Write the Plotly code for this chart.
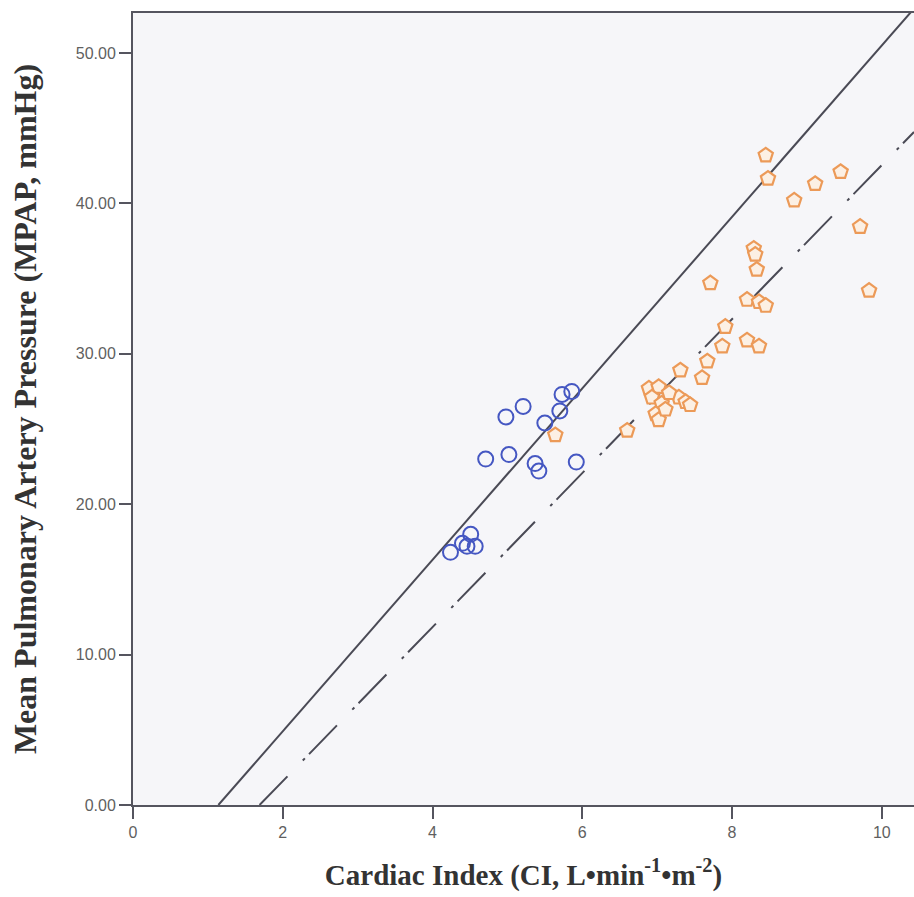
import plotly.graph_objects as go

# Group 1 (blue circles)
ci_g1 = [4.24, 4.40, 4.51, 4.46, 4.57, 4.71, 5.02, 5.37, 5.42, 5.92, 4.98, 5.21, 5.50, 5.70, 5.73, 5.86]
mpap_g1 = [16.8, 17.4, 18.0, 17.2, 17.2, 23.0, 23.3, 22.7, 22.2, 22.8, 25.8, 26.5, 25.4, 26.2, 27.3, 27.5]

# Group 2 (orange pentagons)
ci_g2 = [8.45, 8.48, 8.83, 9.11, 9.45, 9.71, 9.83, 8.29, 8.31, 8.33, 7.71, 8.20, 8.36, 8.45,
         7.91, 7.87, 8.20, 8.36, 7.67, 7.60, 7.31, 6.60, 5.64,
         6.89, 7.02, 6.93, 7.06, 6.98, 7.02, 7.29, 7.38, 7.44, 7.16, 7.11]
mpap_g2 = [43.2, 41.65, 40.2, 41.3, 42.1, 38.45, 34.2, 37.0, 36.6, 35.6, 34.7, 33.6, 33.45, 33.2,
           31.8, 30.5, 30.9, 30.5, 29.5, 28.4, 28.9, 24.9, 24.6,
           27.7, 27.8, 27.1, 26.7, 26.0, 25.6, 27.1, 26.8, 26.6, 27.4, 26.3]

# Fitted lines: (slope, x-intercept)
solid_fit = (5.70, 1.14)
dashdot_fit = (5.12, 1.69)

x_range = [0, 10.43]
y_range = [0, 52.66]
y_ticks = [0, 10, 20, 30, 40, 50]
x_ticks = [0, 2, 4, 6, 8, 10]


def fit_points(slope, x0):
    xs = [x0, x_range[1]]
    ys = [slope * (x - x0) for x in xs]
    return xs, ys


fig = go.Figure()

sx, sy = fit_points(*solid_fit)
fig.add_trace(go.Scatter(x=sx, y=sy, mode="lines",
                         line=dict(color="#4a4a55", width=2), showlegend=False,
                         hoverinfo="skip"))
dx, dy = fit_points(*dashdot_fit)
fig.add_trace(go.Scatter(x=dx, y=dy, mode="lines",
                         line=dict(color="#4a4a55", width=2, dash="40px,22px,3px,6px"),
                         showlegend=False, hoverinfo="skip"))

fig.add_trace(go.Scatter(x=ci_g1, y=mpap_g1, mode="markers",
                         marker=dict(symbol="circle-open", size=15,
                                     color="#4557c2", line=dict(width=2)),
                         showlegend=False))
fig.add_trace(go.Scatter(x=ci_g2, y=mpap_g2, mode="markers",
                         marker=dict(symbol="pentagon", size=15,
                                     color="#fcf0e4",
                                     line=dict(width=2.2, color="#ec9a58")),
                         showlegend=False))

tick_font = dict(family="Liberation Sans, Arial", size=16, color="#5f5f5f")

fig.update_layout(
    width=914, height=897,
    margin=dict(l=133, r=0, t=13, b=92),
    paper_bgcolor="#ffffff",
    plot_bgcolor="#f6f6f9",
    xaxis=dict(
        range=x_range, tickvals=x_ticks, ticktext=[str(v) for v in x_ticks],
        showgrid=False, zeroline=False, automargin=False,
        showline=True, linecolor="#55555f", linewidth=2, mirror=True,
        ticks="outside", ticklen=12, tickwidth=2, tickcolor="#55555f",
        tickfont=tick_font,
        title=dict(text="<b>Cardiac Index (CI, L•min<sup>-1</sup>•m<sup>-2</sup>)</b>",
                   font=dict(family="Liberation Serif, Times New Roman", size=29, color="#333333"),
                   standoff=24),
    ),
    yaxis=dict(
        range=y_range, tickvals=y_ticks, ticktext=[f"{v:.2f}" for v in y_ticks],
        showgrid=False, zeroline=False, automargin=False,
        showline=True, linecolor="#55555f", linewidth=2,
        ticks="outside", ticklen=12, tickwidth=2, tickcolor="#55555f",
        tickfont=tick_font,
        title=dict(text="<b>Mean Pulmonary Artery Pressure (MPAP, mmHg)</b>",
                   font=dict(family="Liberation Serif, Times New Roman", size=32, color="#333333"),
                   standoff=30),
    ),
)

fig.write_html("out.html", config={"responsive": False, "displayModeBar": False},
               post_script="document.body.style.margin='0';document.body.style.overflow='hidden';")
